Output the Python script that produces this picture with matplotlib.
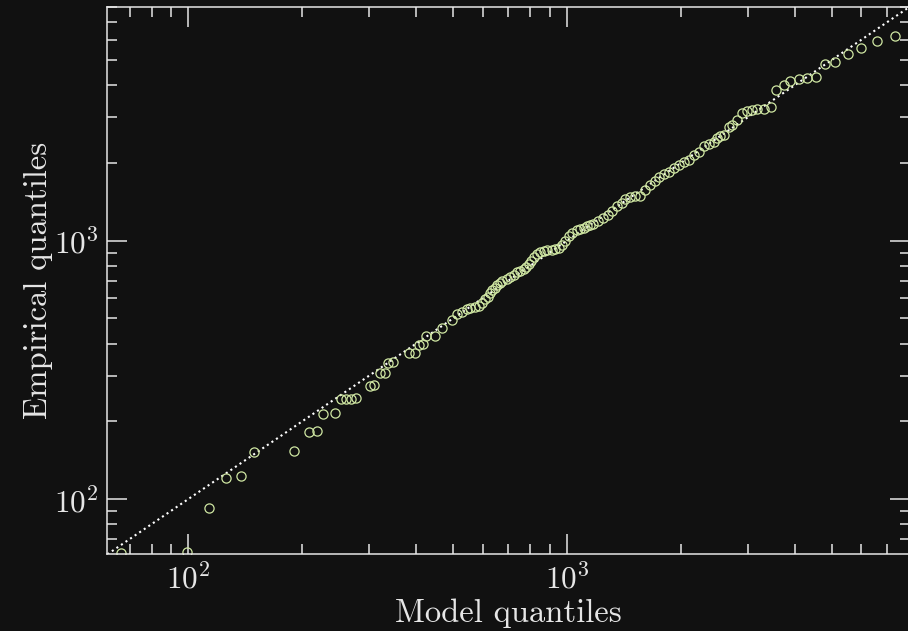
import matplotlib
matplotlib.use("Agg")
import matplotlib.pyplot as plt

# quantiles (model on x, empirical on y)
model_q = [66.4, 99.2, 113.1, 125.8, 137.8, 149.2, 190.2, 208.8, 218.5, 227.0,
           244.6, 253.1, 261.0, 269.1, 277.9, 301.3, 308.7, 321.6, 331.5, 337.6,
           346.5, 382.0, 398.0, 406.0, 417.0, 425.5, 449.2, 468.0, 497.5, 512.9,
           528.7, 544.9, 556.0, 573.3, 587.3, 598.2, 609.2, 618.5, 628.0, 635.6,
           645.4, 655.3, 665.3, 675.5, 695.0, 709.1, 723.5, 737.8, 753.6, 768.9,
           781.6, 793.6, 805.8, 818.1, 834.2, 851.1, 869.4, 888.2, 912.9, 932.4,
           952.6, 972.9, 990.9, 1011, 1034, 1064, 1086, 1108, 1131, 1154,
           1175, 1211, 1249, 1287, 1317, 1357, 1399, 1428, 1472, 1517,
           1564, 1612, 1662, 1713, 1748, 1802, 1857, 1915, 1974, 2035,
           2098, 2163, 2230, 2299, 2370, 2443, 2498, 2544, 2596, 2676,
           2732, 2817, 2904, 2993, 3085, 3181, 3311, 3450, 3577, 3740,
           3896, 4097, 4306, 4536, 4819, 5122, 5520, 5988, 6592, 7346]
empirical_q = [61.6, 62.2, 92.0, 120.3, 123.1, 152.5, 153.5, 181.8, 183.5, 212.9,
               214.9, 243.4, 244.1, 244.8, 245.7, 274.2, 275.9, 307.0, 307.9, 335.7,
               338.7, 366.9, 368.0, 395.3, 398.9, 426.0, 428.0, 458.7, 492.8, 521.3,
               530.6, 545.0, 549.9, 556.3, 557.3, 575.0, 596.0, 606.7, 626.0, 643.1,
               657.6, 672.4, 684.6, 696.6, 709.3, 725.4, 738.4, 755.0, 765.2, 775.5,
               793.0, 810.9, 832.9, 863.0, 886.6, 902.5, 910.6, 918.8, 919.0, 927.1,
               935.2, 965.0, 995.6, 1041, 1074, 1098, 1108, 1123, 1138, 1148,
               1159, 1188, 1225, 1261, 1299, 1358, 1400, 1455, 1475, 1488,
               1494, 1577, 1641, 1708, 1770, 1818, 1851, 1913, 1971, 2024,
               2061, 2154, 2213, 2334, 2377, 2419, 2501, 2537, 2576, 2766,
               2816, 2944, 3126, 3171, 3199, 3220, 3240, 3298, 3848, 4006,
               4133, 4207, 4272, 4302, 4840, 4927, 5259, 5548, 5906, 6193]
axis_lo, axis_hi = 61.1, 8050

bg = '#111111'
fg = '#e6e6e6'
plt.rcParams['font.family'] = 'serif'
plt.rcParams['font.serif'] = ['cmr10']
plt.rcParams['mathtext.fontset'] = 'cm'
plt.rcParams['axes.formatter.use_mathtext'] = True

fig = plt.figure(figsize=(9.08, 6.31), dpi=100, facecolor=bg)
# right spine sits just past the image edge, as in the reference
ax = fig.add_axes([0.1182, 0.1215, 0.8838, 0.8679])
ax.set_facecolor(bg)

ax.plot([axis_lo, axis_hi], [axis_lo, axis_hi], ls=':', lw=1.5, color='white', zorder=1)
ax.plot(model_q, empirical_q, 'o', ms=6.6, mfc='none', mec='#cfe6a2', mew=0.9, zorder=2)

ax.set_xscale('log')
ax.set_yscale('log')
ax.set_xlim(axis_lo, axis_hi)
ax.set_ylim(axis_lo, axis_hi)

ax.set_xlabel('Model quantiles', fontsize=23.5, color=fg, labelpad=3)
ax.set_ylabel('Empirical quantiles', fontsize=23.5, color=fg, labelpad=1)

for s in ax.spines.values():
    s.set_color(fg)
    s.set_linewidth(1.1)
ax.tick_params(which='both', direction='in', top=True, right=True, colors=fg, width=1.1)
ax.tick_params(which='major', length=14.4, labelsize=22.5, pad=6)
ax.tick_params(which='minor', length=7.2)

fig.savefig('out.png', dpi=100, facecolor=bg)
